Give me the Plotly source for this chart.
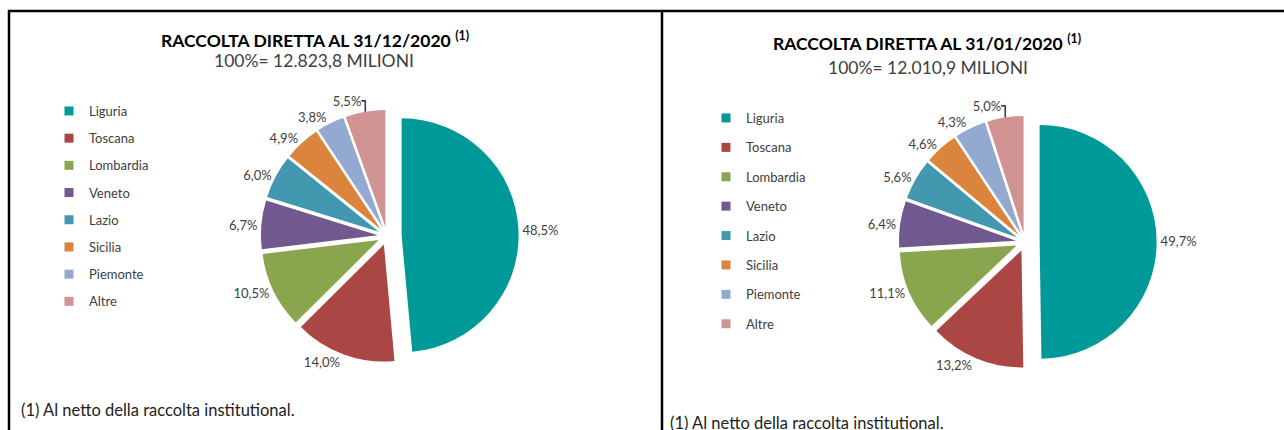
import plotly.graph_objects as go

W, H = 1284, 430

regions = ["Liguria", "Toscana", "Lombardia", "Veneto", "Lazio", "Sicilia", "Piemonte", "Altre"]
colors = ["#009999", "#AA4643", "#89A54E", "#71588F", "#4198AF", "#DB843D", "#93A9CF", "#D19392"]

values_dec = [48.5, 14.0, 10.5, 6.7, 6.0, 4.9, 3.8, 5.5]
values_jan = [49.7, 13.2, 11.1, 6.4, 5.6, 4.6, 4.3, 5.0]

title_dec = "RACCOLTA DIRETTA AL 31/12/2020"
title_jan = "RACCOLTA DIRETTA AL 31/01/2020"
total_dec = "100%= 12.823,8 MILIONI"
total_jan = "100%= 12.010,9 MILIONI"
footnote = "(1) Al netto della raccolta institutional."

FONT = "Lato"
TXT = "#404040"


def fmt(v):
    return f"{v:.1f}".replace(".", ",") + "%"


def px_domain(cx, cy, half):
    return dict(x=[(cx - half) / W, (cx + half) / W],
                y=[1 - (cy + half) / H, 1 - (cy - half) / H])


fig = go.Figure()

pulls = [0.125] + [0.078] * 7

fig.add_trace(go.Pie(
    labels=regions, values=values_dec, text=[fmt(v) for v in values_dec],
    texttemplate="%{text}", textposition="outside",
    sort=False, direction="clockwise", rotation=0,
    pull=pulls, marker=dict(colors=colors, line=dict(width=0)),
    textfont=dict(family=FONT, size=13, color=TXT),
    domain=px_domain(387, 236, 117 * 1.125), showlegend=False,
))
fig.add_trace(go.Pie(
    labels=regions, values=values_jan, text=[fmt(v) for v in values_jan],
    texttemplate="%{text}", textposition="outside",
    sort=False, direction="clockwise", rotation=0,
    pull=pulls, marker=dict(colors=colors, line=dict(width=0)),
    textfont=dict(family=FONT, size=13, color=TXT),
    domain=px_domain(1025, 242, 117 * 1.125), showlegend=False,
))

# legend entries
for lg in ["legend", "legend2"]:
    for i, (r, c) in enumerate(zip(regions, colors)):
        fig.add_trace(go.Scatter(
            x=[None], y=[None], mode="markers", name=r,
            marker=dict(symbol="square", size=9, color=c),
            legendgroup=f"{lg}_{i}", legend=lg, showlegend=True,
        ))

legend_common = dict(xanchor="left", yanchor="top", bgcolor="rgba(0,0,0,0)",
                     font=dict(family=FONT, size=13, color=TXT),
                     traceorder="grouped", itemwidth=30, borderwidth=0)

fig.update_layout(
    width=W, height=H, margin=dict(l=0, r=0, t=0, b=0),
    paper_bgcolor="white", plot_bgcolor="white",
    xaxis=dict(visible=False), yaxis=dict(visible=False),
    legend=dict(x=(71 - 22) / W, y=1 - 96 / H, tracegroupgap=7.3, **legend_common),
    legend2=dict(x=(728 - 22) / W, y=1 - 103 / H, tracegroupgap=9.5, **legend_common),
)

annots = [
    (315, 39, f"<b>{title_dec}</b> <sup><b>(1)</b></sup>", 17.5, "#000000"),
    (314, 61, total_dec, 17.5, TXT),
    (927, 43, f"<b>{title_jan}</b> <sup><b>(1)</b></sup>", 17.5, "#000000"),
    (928, 68, total_jan, 17.5, TXT),
]
for x, y, t, s, col in annots:
    fig.add_annotation(x=x / W, y=1 - y / H, xref="paper", yref="paper", text=t,
                       showarrow=False, xanchor="center", yanchor="middle",
                       font=dict(family=FONT, size=s, color=col))

for x, y in [(19, 410), (668, 423)]:
    fig.add_annotation(x=x / W, y=1 - y / H, xref="paper", yref="paper", text=footnote,
                       showarrow=False, xanchor="left", yanchor="middle",
                       font=dict(family=FONT, size=16.5, color="#222222"))

# panel frame
line = dict(color="black", width=2.5)
fig.add_shape(type="line", xref="paper", yref="paper", x0=8 / W, x1=1, y0=1 - 11 / H, y1=1 - 11 / H, line=line)
fig.add_shape(type="line", xref="paper", yref="paper", x0=9 / W, x1=9 / W, y0=0, y1=1 - 10 / H, line=line)
fig.add_shape(type="line", xref="paper", yref="paper", x0=662 / W, x1=662 / W, y0=0, y1=1 - 10 / H, line=line)

fig.write_html("out.html", config={"displayModeBar": False},
               post_script="document.body.style.margin='0';")
